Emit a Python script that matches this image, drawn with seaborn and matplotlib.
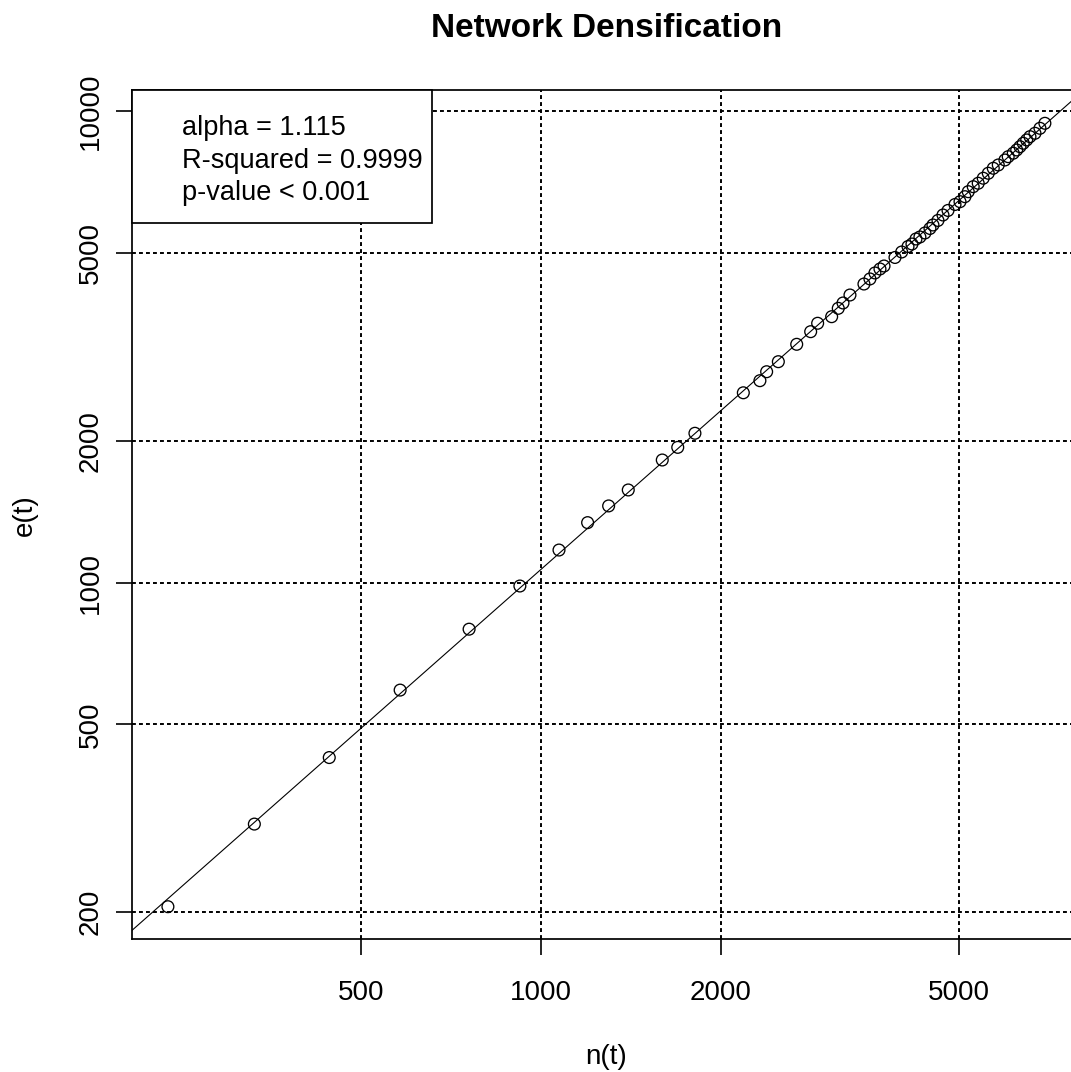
import numpy as np
import pandas as pd
import matplotlib
matplotlib.use("Agg")
import matplotlib.pyplot as plt
from matplotlib.patches import Rectangle
import seaborn as sns

# ---- data ----
n_t = [238, 332, 443, 582, 759, 923, 1073, 1198, 1299, 1401, 1597, 1695, 1811,
       2182, 2326, 2387, 2497, 2680, 2828, 2905, 3066, 3145, 3203,
       3290, 3472, 3553, 3622, 3693, 3751, 3913, 4015, 4114, 4177,
       4242, 4307, 4391, 4477, 4529, 4617, 4707, 4799, 4930, 5026,
       5122, 5188, 5288, 5391, 5496, 5604, 5713, 5824, 5975, 6051,
       6170, 6252, 6331, 6412, 6497, 6580, 6708, 6838, 6969]
e_t = [205, 307, 425, 591, 796, 983, 1172, 1340, 1454, 1572, 1820, 1936, 2074,
       2528, 2682, 2802, 2943, 3204, 3408, 3551, 3667, 3820, 3921,
       4077, 4302, 4410, 4541, 4630, 4698, 4898, 5031, 5167, 5231,
       5361, 5414, 5521, 5644, 5741, 5870, 6028, 6164, 6346, 6434,
       6593, 6756, 6923, 7040, 7215, 7393, 7575, 7698, 7888, 8017,
       8154, 8284, 8418, 8560, 8700, 8841, 8988, 9210, 9438]
x_ticks = [500, 1000, 2000, 5000]
y_ticks = [200, 500, 1000, 2000, 5000, 10000]
stats_lines = ["alpha = 1.115", "R-squared = 0.9999", "p-value < 0.001"]
title = "Network Densification"
x_label = "n(t)"
y_label = "e(t)"

df = pd.DataFrame({"n": n_t, "e": e_t})

sns.set_style("white")
plt.rcParams["font.family"] = ["Liberation Sans", "DejaVu Sans"]
plt.rcParams["text.color"] = "black"

W, H = 1071, 1072
fig = plt.figure(figsize=(W / 100, H / 100), dpi=100)
L, R, T, B = 132.3, 1080.0, 90.0, 939.3
ax = fig.add_axes([L / W, (H - B) / H, (R - L) / W, (B - T) / H])

ax.set_xscale("log")
ax.set_yscale("log")
ax.set_xlim(207.5, 7978)
ax.set_ylim(174.8, 11106)

# grid
ax.grid(True, which="major", color="black", linestyle=(0, (2.0, 1.6)),
        linewidth=1.4, zorder=0)
ax.set_axisbelow(True)

# fit line (log-log regression)
lx = np.log10(df["n"].values)
ly = np.log10(df["e"].values)
slope, intercept = np.polyfit(lx, ly, 1)
xl = np.array(ax.get_xlim())
xl = np.array([xl[0] * 0.9, xl[1] * 1.1])
ax.plot(xl, 10 ** (intercept + slope * np.log10(xl)), color="black",
        linewidth=0.8, zorder=2)

# points
sns.scatterplot(data=df, x="n", y="e", ax=ax, marker="o", s=72,
                facecolors="none", edgecolor="black", linewidth=0.95, zorder=3)

ax.set_xlim(207.5, 7978)
ax.set_ylim(174.8, 11106)

# ticks
ax.xaxis.set_minor_locator(matplotlib.ticker.NullLocator())
ax.yaxis.set_minor_locator(matplotlib.ticker.NullLocator())
ax.set_xticks(x_ticks)
ax.set_xticklabels([str(v) for v in x_ticks])
ax.set_yticks(y_ticks)
ax.set_yticklabels([str(v) for v in y_ticks])
ax.tick_params(axis="both", which="major", direction="out", length=11.5,
               width=1.2, color="black", labelsize=20, labelcolor="black",
               bottom=True, left=True, top=False, right=False)
ax.tick_params(axis="x", pad=18)
ax.tick_params(axis="y", pad=9.1)
for lab in ax.get_yticklabels():
    lab.set_rotation(90)
    lab.set_va("center")
    lab.set_ha("right")

for side in ["left", "bottom", "top", "right"]:
    ax.spines[side].set_visible(True)
    ax.spines[side].set_color("black")
    ax.spines[side].set_linewidth(1.25)

# labels
ax.set_xlabel(x_label, fontsize=20, color="black", va="center")
ax.xaxis.set_label_coords(0.5, (B - 1057) / (B - T))
ax.set_ylabel(y_label, fontsize=20, color="black", va="center", ha="center")
ax.yaxis.set_label_coords((25 - L) / (R - L), 0.5)

ax.set_title(title, fontsize=24, fontweight="bold", color="black",
             y=(B - 36.7) / (B - T), pad=0, va="baseline")

# stats box
bx0, by0 = 0.0, (B - 223) / (B - T)
bw, bh = (432 - L) / (R - L), 1 - (B - 223) / (B - T)
ax.add_patch(Rectangle((bx0, by0), bw, bh, transform=ax.transAxes,
                       facecolor="white", edgecolor="black", linewidth=1.25,
                       zorder=4, clip_on=False))
for i, s in enumerate(stats_lines):
    yb = 135 + 32.7 * i
    ax.text((181.7 - L) / (R - L), (B - yb) / (B - T), s, transform=ax.transAxes,
            fontsize=19.5, va="baseline", ha="left", color="black", zorder=5)

fig.savefig("out.png", dpi=100)
